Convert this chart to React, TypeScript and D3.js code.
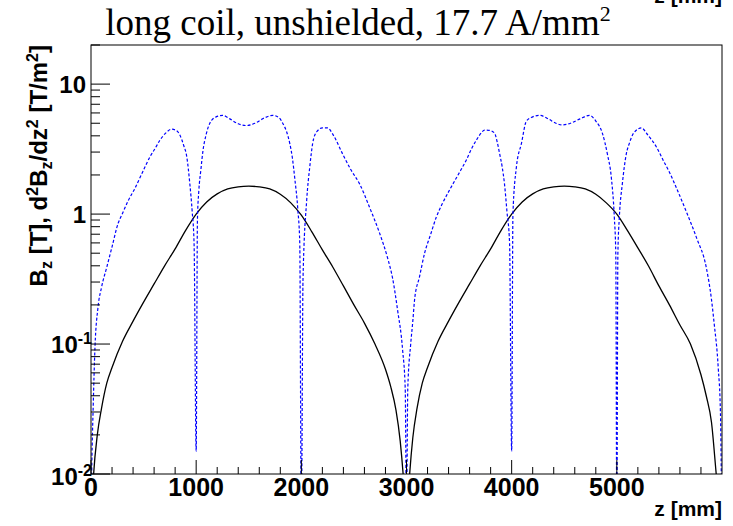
import React from "react";
import * as d3 from "d3";

const W = 733;
const H = 526;
const margin = { left: 91, right: 11, top: 45, bottom: 52 };

// B_z [T] along z (black solid curve)
const bzZ = [
  0, 25, 60, 100, 150, 200, 300, 400, 500, 600, 700, 800, 900, 1000, 1100, 1200, 1300, 1400, 1500,
  1600, 1700, 1800, 1900, 2000, 2100, 2200, 2300, 2400, 2500, 2600, 2700, 2800, 2850, 2900, 2940,
  2970, 3000, 3030, 3060, 3100, 3150, 3200, 3300, 3400, 3500, 3600, 3700, 3800, 3900, 4000, 4100,
  4200, 4300, 4400, 4500, 4600, 4700, 4800, 4900, 5000, 5100, 5200, 5300, 5400, 5500, 5600, 5700,
  5800, 5850, 5900, 5945, 5990,
];
const bzVal = [
  0.004, 0.01, 0.02, 0.032, 0.05, 0.066, 0.105, 0.15, 0.21, 0.29, 0.4, 0.54, 0.75, 1.0, 1.24, 1.43,
  1.56, 1.62, 1.64, 1.62, 1.56, 1.42, 1.22, 0.98, 0.73, 0.53, 0.39, 0.28, 0.2, 0.145, 0.1, 0.064,
  0.047, 0.031, 0.018, 0.0095, 0.004, 0.01, 0.019, 0.032, 0.05, 0.066, 0.105, 0.15, 0.21, 0.29,
  0.4, 0.54, 0.75, 1.0, 1.24, 1.43, 1.56, 1.62, 1.64, 1.62, 1.56, 1.42, 1.22, 1.0, 0.75, 0.55,
  0.4, 0.28, 0.2, 0.14, 0.1, 0.058, 0.04, 0.025, 0.01, 0.004,
];

// |d2Bz/dz2| [T/m2] (blue dashed curve)
const d2Z = [
  0, 8, 20, 38, 66, 101, 150, 200, 258, 294, 350, 418, 490, 560, 610, 655, 710, 769, 810, 845, 880,
  911, 940, 962, 980, 1000, 1012, 1025, 1045, 1063, 1095, 1130, 1190, 1254, 1320, 1400, 1481, 1560,
  1650, 1730, 1790, 1823, 1860, 1890, 1915, 1937, 1966, 1985, 2000, 2016, 2051, 2080, 2108, 2146,
  2200, 2251, 2300, 2393, 2470, 2555, 2650, 2745, 2820, 2868, 2915, 2963, 2988, 3000,
  3012, 3040, 3060, 3077, 3124, 3172, 3230, 3284, 3340, 3409, 3490, 3568, 3620, 3664, 3710, 3742,
  3790, 3837, 3862, 3886, 3910, 3932, 3955, 3980, 4000, 4012, 4045, 4093, 4140, 4200, 4264, 4350,
  4420, 4482, 4560, 4650, 4739, 4800, 4862, 4910, 4948, 4976, 4990, 5000, 5010, 5024, 5052, 5090,
  5119, 5160, 5233, 5300, 5375, 5440, 5500, 5580, 5670, 5760, 5850, 5900, 5925, 5964, 5985, 5998,
];
const d2Val = [
  0.004, 0.012, 0.031, 0.095, 0.19, 0.275, 0.39, 0.56, 0.85, 0.99, 1.25, 1.58, 2.1, 2.75, 3.2, 3.7,
  4.2, 4.5, 4.4, 4.06, 3.4, 2.75, 1.7, 1.05, 0.6, 0.015, 0.9, 1.5, 2.2, 3.0, 4.1, 5.0, 5.6, 5.75,
  5.4, 4.95, 4.8, 5.0, 5.5, 5.75, 5.5, 5.0, 4.3, 3.5, 2.7, 1.9, 1.1, 0.6, 0.004, 0.32, 1.28, 2.3,
  3.5, 4.3, 4.6, 4.6, 4.1, 2.9, 2.2, 1.7, 1.12, 0.71, 0.46, 0.32, 0.183, 0.09, 0.045, 0.004,
  0.045, 0.1, 0.15, 0.22, 0.33, 0.5, 0.7, 0.95, 1.2, 1.53, 2.0, 2.6, 3.2, 3.7, 4.2, 4.43, 4.4, 4.2,
  3.6, 2.9, 2.3, 1.7, 1.05, 0.6, 0.015, 1.0, 2.3, 3.5, 5.2, 5.6, 5.75, 5.4, 5.0, 4.85, 5.0, 5.4,
  5.75, 5.2, 4.2, 2.9, 1.9, 0.95, 0.5, 0.004, 0.5, 0.95, 1.7, 2.9, 3.5, 4.2, 4.6, 4.0, 3.3, 2.6,
  2.1, 1.5, 1.0, 0.65, 0.39, 0.22, 0.145, 0.066, 0.03, 0.004,
];

const xMajor = [0, 1000, 2000, 3000, 4000, 5000];
const yMajor = [0.01, 0.1, 1, 10];
const yLabels = [
  ["10", "-2"],
  ["10", "-1"],
  ["1", ""],
  ["10", ""],
];

const App = () => {
  const x = d3.scaleLinear().domain([0, 6000]).range([margin.left, W - margin.right]);
  const y = d3.scaleLog().domain([0.01, 20]).range([H - margin.bottom, margin.top]);

  const line = d3
    .line<[number, number]>()
    .x((d) => x(d[0]))
    .y((d) => y(Math.max(d[1], 0.002)))
    .curve(d3.curveMonotoneX);

  const bz = bzZ.map((z, i) => [z, bzVal[i]] as [number, number]);
  const d2 = d2Z.map((z, i) => [z, d2Val[i]] as [number, number]);

  const x0 = margin.left;
  const x1 = W - margin.right;
  const y0 = H - margin.bottom;
  const y1 = margin.top;

  const xMinor = d3.range(0, 6001, 200).filter((v) => v % 1000 !== 0);
  const yMinor: number[] = [];
  [0.01, 0.1, 1, 10].forEach((dec) => {
    for (let k = 2; k <= 9; k++) if (dec * k <= 20) yMinor.push(dec * k);
  });

  const sans = "'Liberation Sans', Arial, Helvetica, sans-serif";
  const fs = 24;

  return (
    <svg
      width={W}
      height={H}
      style={{ position: "absolute", left: 0, top: 0, background: "#fff" }}
    >
      <defs>
        <clipPath id="frame">
          <rect x={x0} y={y1} width={x1 - x0} height={y0 - y1} />
        </clipPath>
      </defs>

      {/* title */}
      <text
        x={358}
        y={35}
        textAnchor="middle"
        fontFamily="'Liberation Serif', 'Times New Roman', serif"
        fontSize={37}
      >
        long coil, unshielded, 17.7 A/mm
        <tspan fontSize={22} dy={-14}>2</tspan>
      </text>

      {/* cut-off duplicate axis title at the top */}
      <text x={x1} y={3} textAnchor="end" fontFamily={sans} fontWeight="bold" fontSize={21}>
        z [mm]
      </text>

      <g clipPath="url(#frame)">
        <path d={line(bz) ?? ""} fill="none" stroke="#000" strokeWidth={1.3} />
        <path
          d={line(d2) ?? ""}
          fill="none"
          stroke="#0000ff"
          strokeWidth={1.2}
          strokeDasharray="3,2"
        />
      </g>

      {/* frame */}
      <rect x={x0} y={y1} width={x1 - x0} height={y0 - y1} fill="none" stroke="#000" strokeWidth={1} />

      {/* x ticks */}
      {xMajor.map((v) => (
        <line key={"xM" + v} x1={x(v)} x2={x(v)} y1={y0} y2={y0 - 14} stroke="#000" />
      ))}
      {xMinor.map((v) => (
        <line key={"xm" + v} x1={x(v)} x2={x(v)} y1={y0} y2={y0 - 7} stroke="#000" />
      ))}
      {xMajor.map((v) => (
        <text
          key={"xl" + v}
          x={x(v)}
          y={496}
          textAnchor="middle"
          fontFamily={sans}
          fontWeight="bold"
          fontSize={25}
        >
          {v}
        </text>
      ))}
      <text x={x1} y={516} textAnchor="end" fontFamily={sans} fontWeight="bold" fontSize={21}>
        z [mm]
      </text>

      {/* y ticks */}
      {yMajor.map((v) => (
        <line key={"yM" + v} x1={x0} x2={x0 + 19} y1={y(v)} y2={y(v)} stroke="#000" />
      ))}
      {yMinor.map((v) => (
        <line key={"ym" + v} x1={x0} x2={x0 + 9} y1={y(v)} y2={y(v)} stroke="#000" />
      ))}
      {yMajor.map((v, i) => {
        const [base, exp] = yLabels[i];
        return (
          <text
            key={"yl" + v}
            x={exp ? 92 : 86}
            y={y(v) + (i === 0 ? 11 : 9)}
            textAnchor="end"
            fontFamily={sans}
            fontWeight="bold"
            fontSize={fs}
          >
            {base}
            {exp && (
              <tspan fontSize={16} dy={-9}>
                {exp}
              </tspan>
            )}
          </text>
        );
      })}

      {/* y axis title */}
      <text
        transform={`translate(47, ${y1}) rotate(-90)`}
        textAnchor="end"
        fontFamily={sans}
        fontWeight="bold"
        fontSize={fs}
      >
        B<tspan fontSize={16} dy={5}>z</tspan>
        <tspan dy={-5}> [T], d</tspan>
        <tspan fontSize={16} dy={-9}>2</tspan>
        <tspan dy={9}>B</tspan>
        <tspan fontSize={16} dy={5}>z</tspan>
        <tspan dy={-5}>/dz</tspan>
        <tspan fontSize={16} dy={-9}>2</tspan>
        <tspan dy={9}> [T/m</tspan>
        <tspan fontSize={16} dy={-9}>2</tspan>
        <tspan dy={9}>]</tspan>
      </text>
    </svg>
  );
};

export default App;
